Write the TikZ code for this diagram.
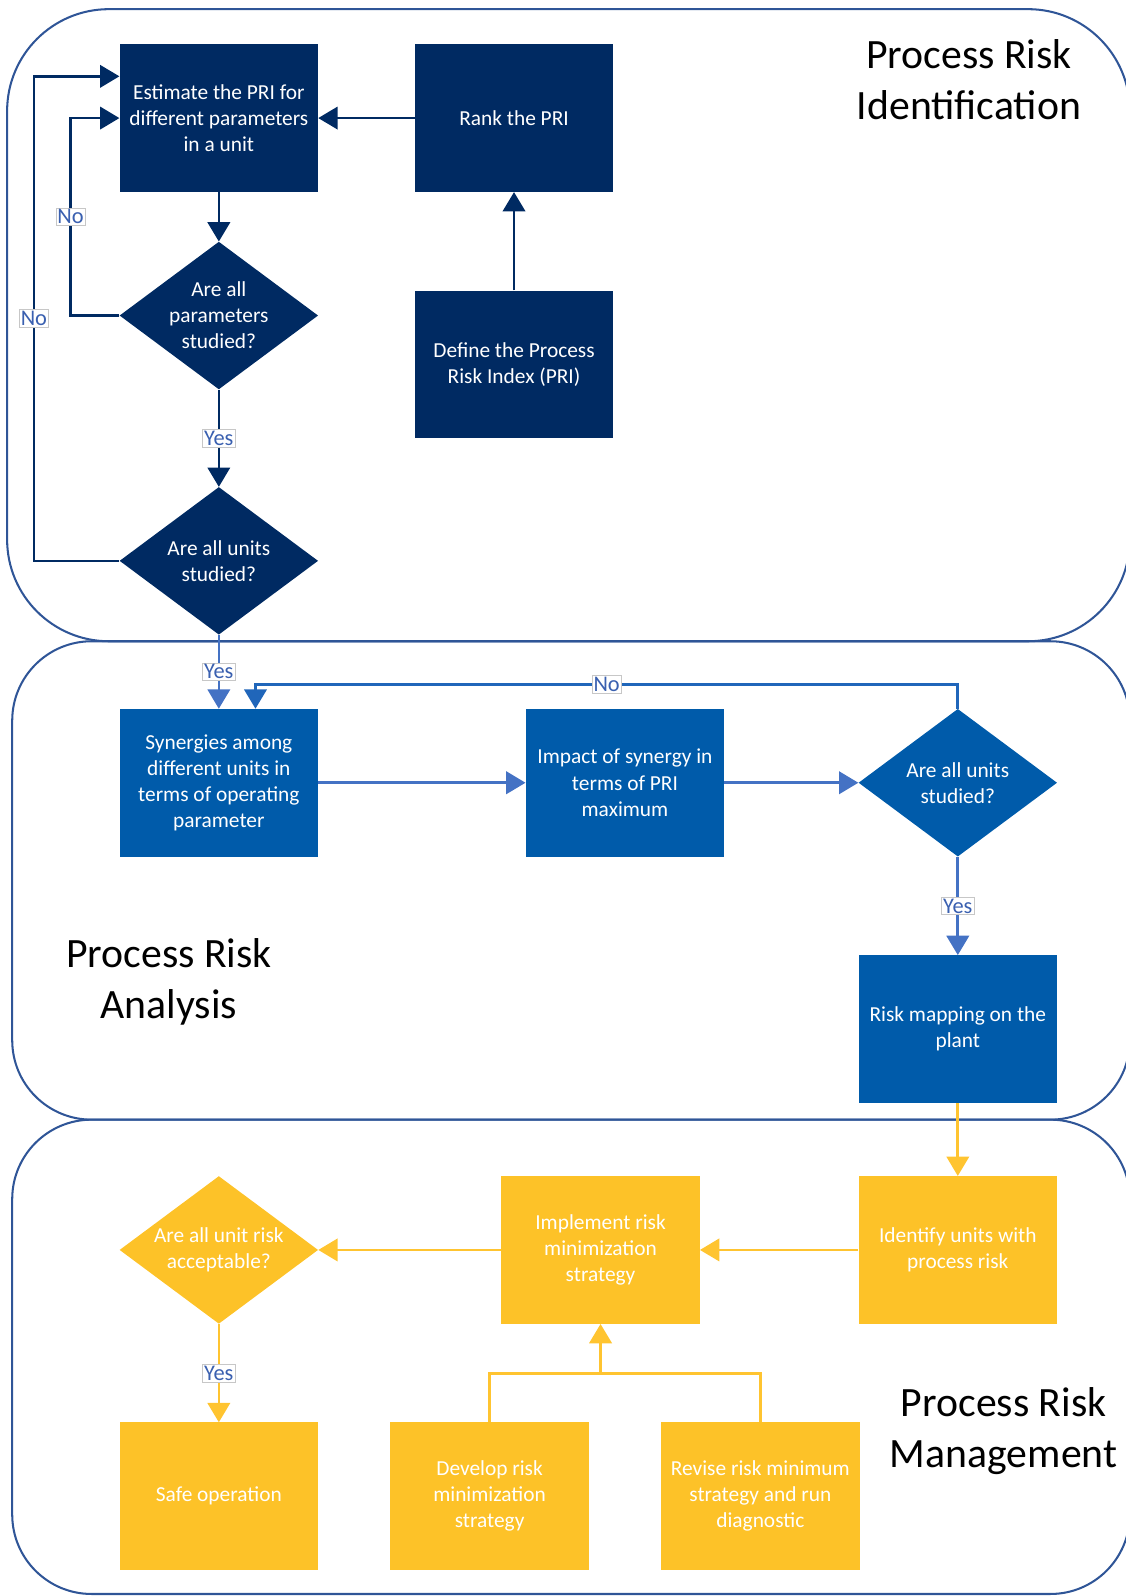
\documentclass[tikz,border=0pt]{standalone}
\usepackage{fontspec}
\setmainfont{Carlito}
\usetikzlibrary{shapes.geometric,arrows.meta,calc}

\definecolor{navy}{RGB}{0,42,98}
\definecolor{midblue}{RGB}{0,91,170}
\definecolor{gold}{RGB}{253,194,40}
\definecolor{goldline}{RGB}{255,196,48}
\definecolor{linkblue}{RGB}{68,114,196}
\definecolor{loopblue}{RGB}{32,102,186}
\definecolor{frameblue}{RGB}{47,85,151}
\definecolor{lbltext}{RGB}{58,96,176}

\begin{document}
\begin{tikzpicture}[x=1pt,y=-1pt,
  stepbox/.style={rectangle, minimum width=195pt, minimum height=145pt, inner sep=0pt,
    align=center, text=white, font=\fontsize{21}{25.6}\selectfont},
  decision/.style={diamond, minimum width=195pt, minimum height=145pt, inner sep=0pt},
  dtext/.style={align=center, text=white, inner sep=0pt, font=\fontsize{21}{25.6}\selectfont},
  heading/.style={align=center, text=black, font=\fontsize{41}{50}\selectfont},
  panel/.style={draw=frameblue, line width=2pt},
  arr/.style={line width=2.6pt, -{Triangle[length=19pt,width=22pt]}},
  lbl/.style={fill=white, draw=black!22, line width=0.6pt, text=lbltext,
    font=\fontsize{22}{24}\selectfont, inner xsep=1.5pt, inner ysep=1.5pt},
]
\useasboundingbox (0,0) rectangle (1106,1568);

% three stage panels
\begin{scope}
  \clip (0,0) rectangle (1106,1568);
  \draw[panel, rounded corners=100pt] (7,9) rectangle (1110,630);
  \draw[panel, rounded corners=78pt] (12,630) rectangle (1110,1100);
  \draw[panel, rounded corners=78pt] (12,1100) rectangle (1110,1566);
\end{scope}

% stage headings
\node[heading] (h1) at (952,78) {Process Risk\\Identification};
\node[heading] (h2) at (166,965) {Process Risk\\Analysis};
\node[heading] (h3) at (986,1406) {Process Risk\\Management};

% identification stage
\node[stepbox, fill=navy] (E) at (215,116) {Estimate the PRI for\\different parameters\\in a unit};
\node[stepbox, fill=navy] (R) at (505,116) {Rank the PRI};
\node[stepbox, fill=navy] (D) at (505,358) {Define the Process\\Risk Index (PRI)};
\node[decision, fill=navy] (Q1) at (215,310) {};
\node[dtext] (Q1t) at (Q1) {Are all\\parameters\\studied?};
\node[decision, fill=navy] (Q2) at (215,551) {};
\node[dtext] (Q2t) at (Q2) {Are all units\\studied?};

% analysis stage
\node[stepbox, fill=midblue] (S) at (215,769) {Synergies among\\different units in\\terms of operating\\parameter};
\node[stepbox, fill=midblue] (I) at (614,769) {Impact of synergy in\\terms of PRI\\maximum};
\node[decision, fill=midblue] (Q3) at (941,769) {};
\node[dtext] (Q3t) at (Q3) {Are all units\\studied?};
\node[stepbox, fill=midblue] (M) at (941,1011) {Risk mapping on the\\plant};

% management stage
\node[stepbox, fill=gold] (Id) at (941,1228) {Identify units with\\process risk};
\node[stepbox, fill=gold] (Im) at (590,1228) {Implement risk\\minimization\\strategy};
\node[decision, fill=gold] (Q4) at (215,1228) {};
\node[dtext] (Q4t) at (Q4) {Are all unit risk\\acceptable?};
\node[stepbox, fill=gold] (Sa) at (215,1470) {Safe operation};
\node[stepbox, fill=gold] (Dv) at (481,1470) {Develop risk\\minimization\\strategy};
\node[stepbox, fill=gold] (Rv) at (747,1470) {Revise risk minimum\\strategy and run\\diagnostic};

% identification connectors
\draw[arr, navy] (E.south) -- (Q1.north);
\draw[arr, navy] (Q1.south) -- node[lbl] {Yes} (Q2.north);
\draw[arr, navy] (Q1.west) -- ++(-48,0) |- node[lbl, pos=0.25] {No} (E.west);
\draw[arr, navy] (Q2.west) -- ++(-84,0) |- node[lbl, pos=0.25] {No} ($(E.west)+(0,-41)$);
\draw[arr, navy] (R.west) -- (E.east);
\draw[arr, navy] (D.north) -- (R.south);

% analysis connectors
\draw[arr, linkblue] (Q2.south) -- node[lbl] {Yes} (S.north);
\draw[arr, linkblue] (S.east) -- (I.west);
\draw[arr, linkblue] (I.east) -- (Q3.west);
\draw[arr, loopblue] (Q3.north) -- ++(0,-24) -| node[lbl, pos=0.25] {No} ($(S.north)+(36,0)$);
\draw[arr, linkblue] (Q3.south) -- node[lbl] {Yes} (M.north);

% management connectors
\draw[arr, goldline] (M.south) -- (Id.north);
\draw[arr, goldline] (Id.west) -- (Im.east);
\draw[arr, goldline] (Im.west) -- (Q4.east);
\draw[arr, goldline] (Q4.south) -- node[lbl] {Yes} (Sa.north);
\coordinate (J) at ($(Im.south)+(0,49)$);
\draw[goldline, line width=2.6pt] (Dv.north) |- (J) -| (Rv.north);
\draw[arr, goldline] (J) -- (Im.south);
\end{tikzpicture}
\end{document}
